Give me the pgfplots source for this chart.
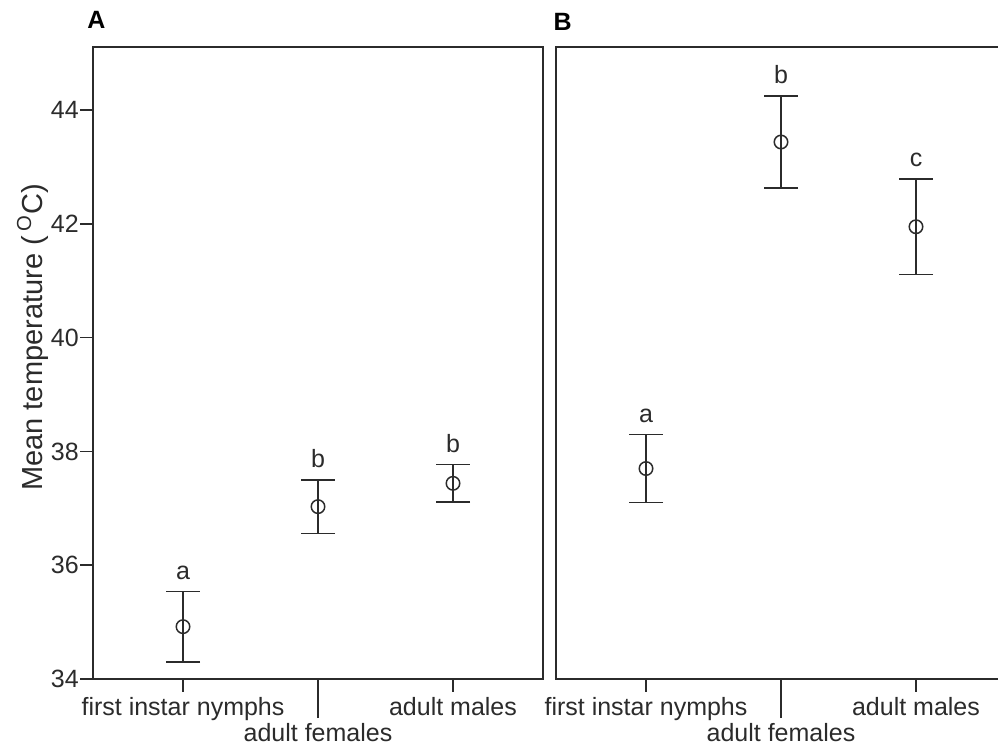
\documentclass[border=0pt]{standalone}
\usepackage{fontspec}
\setmainfont{Liberation Sans}
\usepackage{pgfplots}
\pgfplotsset{compat=1.18}
\usepackage{pgfplotstable}

\pgfplotstableread{
x y err lab
1 34.92 0.62 a
2 37.03 0.47 b
3 37.44 0.33 b
}\dataA
\pgfplotstableread{
x y err lab
1 37.70 0.60 a
2 43.44 0.81 b
3 41.95 0.84 c
}\dataB

\definecolor{ink}{HTML}{2B2B2B}

\pgfplotsset{
  panel/.style={
    scale only axis, width=180pt, height=252.8pt,
    xmin=0.3333, xmax=3.6667, ymin=34, ymax=45.11,
    axis line style={line width=0.6pt, ink},
    tick style={line width=0.6pt, ink},
    tick align=outside,
    major tick length=5pt,
    xtick pos=bottom, ytick pos=left,
    xtick={1,3}, xticklabels={first instar nymphs, adult males},
    extra x ticks={2}, extra x tick labels={adult females},
    extra x tick style={major tick length=15.6pt},
    xticklabel style={inner sep=2pt},
    clip=false,
    /pgf/number format/assume math mode=true,
    tick label style={font=\fontsize{10}{12}\selectfont, text=ink},
  },
  ebars/.style={
    ink, only marks, mark=o, mark size=2.7pt, line width=0.6pt,
    mark options={line width=0.6pt, ink},
    error bars/.cd, y dir=both, y explicit,
    error bar style={line width=0.6pt, ink},
    error mark options={rotate=90, mark size=6.8pt, line width=0.6pt, ink},
  },
  letters/.style={
    draw=none, mark=none, only marks,
    nodes near coords, point meta=explicit symbolic,
    every node near coord/.append style={anchor=base, inner sep=0pt, yshift=4.8pt,
      font=\fontsize{10}{12}\selectfont, text=ink},
  },
}

\begin{document}
\begin{tikzpicture}
\path[use as bounding box] (-37.2pt,-26.8pt) rectangle (362pt,271.6pt);
\begin{axis}[panel, at={(0pt,0pt)}, anchor=south west,
  ytick={34,36,...,44},
  yticklabel style={inner xsep=0.5pt},
  ylabel={Mean temperature (\,\textsuperscript{O}C)},
  ylabel style={at={(axis description cs:-0.1133,0.541)}, anchor=base,
    font=\fontsize{11.6}{14}\selectfont, text=ink},
]
\addplot+[ebars] table[x=x, y=y, y error=err] {\dataA};
\addplot[letters] table[x=x, y expr=\thisrow{y}+\thisrow{err}, meta=lab] {\dataA};
\node[anchor=base west, font=\fontsize{10}{12}\selectfont\bfseries, text=black,
  xshift=-2.4pt, yshift=7.6pt, inner sep=0pt] at (rel axis cs:0,1) {A};
\end{axis}

\begin{axis}[panel, at={(185.2pt,0pt)}, anchor=south west,
  ytick=\empty,
]
\addplot+[ebars] table[x=x, y=y, y error=err] {\dataB};
\addplot[letters] table[x=x, y expr=\thisrow{y}+\thisrow{err}, meta=lab] {\dataB};
\node[anchor=base west, font=\fontsize{10}{12}\selectfont\bfseries, text=black,
  xshift=-1.2pt, yshift=6.8pt, inner sep=0pt] at (rel axis cs:0,1) {B};
\end{axis}
\end{tikzpicture}
\end{document}
